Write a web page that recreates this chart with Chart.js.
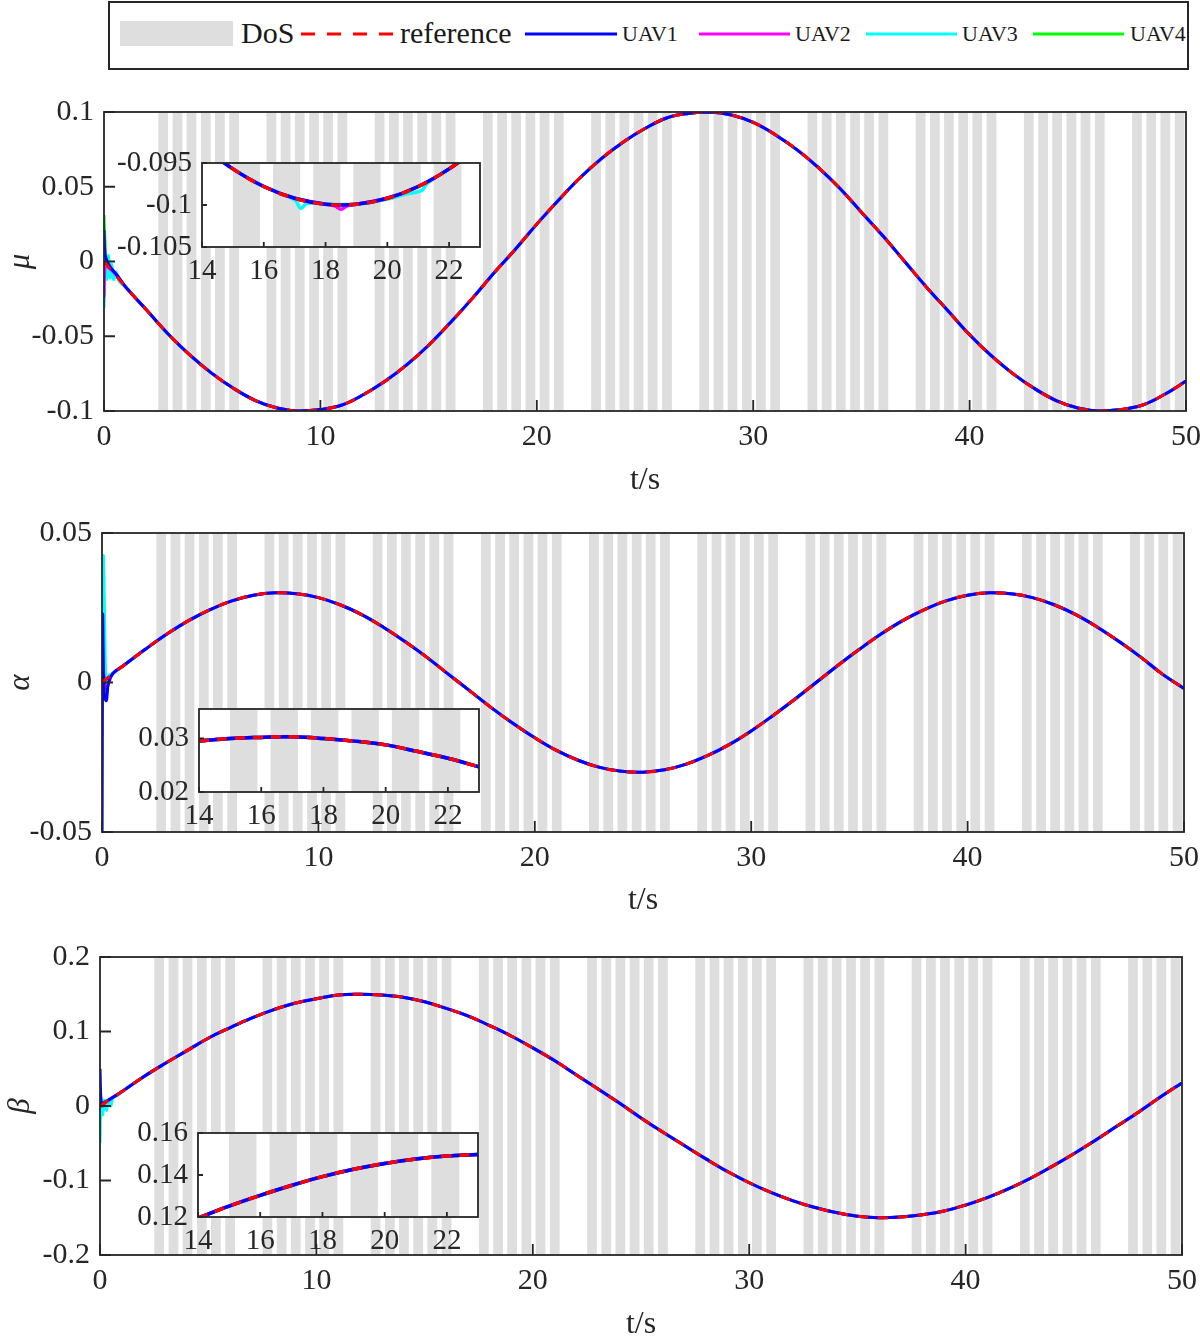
<!DOCTYPE html>
<html lang="en">
<head>
<meta charset="utf-8">
<title>Attitude tracking of UAVs under DoS attacks</title>
<script src="https://cdn.jsdelivr.net/npm/chart.js@4.4.1/dist/chart.umd.min.js"></script>
<style>
    html, body { margin: 0; padding: 0; background: #fff; }
    body {
        position: relative;
        width: 1200px;
        height: 1336px;
        overflow: hidden;
        font-family: "Liberation Serif", "Times New Roman", serif;
        color: #1a1a1a;
    }
    .panel { position: absolute; }
    #legend {
        position: absolute;
        left: 108px;
        top: 1px;
        width: 1077px;
        height: 65px;
        border: 2px solid #262626;
        background: #fff;
    }
    #legend svg { position: absolute; left: 0; top: 0; }
    .key { position: absolute; white-space: nowrap; }
    .key.big { font-size: 30px; line-height: 30px; top: 15px; }
    .key.small { font-size: 22px; line-height: 22px; top: 20px; }
    .patch { position: absolute; left: 10px; top: 18px; width: 113px; height: 25px; background: #dedede; }
</style>
</head>
<body>

<div id="legend">
    <div class="patch"></div>
    <span class="key big" style="left:131px">DoS</span>
    <svg width="1077" height="65"></svg>
</div>

<div class="panel" style="left:0;top:75px;width:1200px;height:430px"><canvas id="muChart"></canvas></div>
<div class="panel" style="left:0;top:500px;width:1200px;height:430px"><canvas id="alphaChart"></canvas></div>
<div class="panel" style="left:0;top:925px;width:1200px;height:430px"><canvas id="betaChart"></canvas></div>

<div class="panel" style="left:106px;top:150px;width:379px;height:140px"><canvas id="muInset"></canvas></div>
<div class="panel" style="left:103px;top:696px;width:381px;height:140px"><canvas id="alphaInset"></canvas></div>
<div class="panel" style="left:102px;top:1120px;width:381px;height:140px"><canvas id="betaInset"></canvas></div>

<script>
// ---- values ----
const timeSec = [0,1,2,3,4,5,6,7,8,9,10,11,12,13,14,15,16,17,18,19,20,21,22,23,24,25,
    26,27,28,29,30,31,32,33,34,35,36,37,38,39,40,41,42,43,44,45,46,47,48,49,50];

const muRef = [0,-0.017,-0.033,-0.049,-0.063,-0.075,-0.085,-0.093,-0.098,-0.1,-0.099,-0.096,
    -0.089,-0.08,-0.069,-0.056,-0.041,-0.025,-0.008,0.008,0.025,0.041,0.056,0.069,0.08,0.089,
    0.096,0.099,0.1,0.098,0.093,0.085,0.075,0.063,0.049,0.033,0.017,0,-0.017,-0.033,-0.049,
    -0.063,-0.075,-0.085,-0.093,-0.098,-0.1,-0.099,-0.096,-0.089,-0.08];

const alphaRef = [0,0.0057,0.0111,0.0162,0.0207,0.0244,0.0273,0.0292,0.03,0.0297,0.0284,0.026,
    0.0227,0.0185,0.0137,0.0085,0.0028,-0.0028,-0.0085,-0.0137,-0.0185,-0.0227,-0.026,-0.0284,
    -0.0297,-0.03,-0.0292,-0.0273,-0.0244,-0.0207,-0.0162,-0.0111,-0.0057,0,0.0057,0.0111,
    0.0162,0.0207,0.0244,0.0273,0.0292,0.03,0.0297,0.0284,0.026,0.0227,0.0185,0.0137,0.0085,
    0.0028,-0.002];

const betaRef = [0,0.019,0.039,0.057,0.074,0.091,0.105,0.118,0.129,0.138,0.144,0.149,0.15,
    0.149,0.146,0.14,0.131,0.121,0.108,0.094,0.078,0.061,0.042,0.023,0.004,-0.016,-0.035,
    -0.053,-0.071,-0.088,-0.103,-0.116,-0.127,-0.136,-0.143,-0.148,-0.15,-0.149,-0.146,-0.141,
    -0.133,-0.123,-0.111,-0.097,-0.081,-0.064,-0.046,-0.027,-0.008,0.012,0.031];

// start-up transients of each UAV (after t = 1 s they sit on the reference)
const uav1MuT = [0, 0.04, 0.12, 0.3, 0.6];
const uav1Mu  = [0.021, 0.006, 0.001, -0.004, -0.009];
const uav2MuT = [0, 0.06, 0.2, 0.5];
const uav2Mu  = [-0.024, -0.002, -0.004, -0.008];
const uav3MuT = [0, 0.06, 0.12, 0.2, 0.28, 0.36, 0.45, 0.55, 0.7];
const uav3Mu  = [-0.031, 0.006, -0.012, 0.004, -0.011, -0.002, -0.012, -0.007, -0.013];
const uav4MuT = [0, 0.05, 0.12, 0.3, 0.6];
const uav4Mu  = [0.031, 0.012, 0, -0.004, -0.01];

const uav1AlT = [0, 0.03, 0.1, 0.2, 0.3, 0.5];
const uav1Al  = [-0.06, 0.022, -0.004, -0.006, 0, 0.003];
const uav2AlT = [0, 0.08, 0.2, 0.5];
const uav2Al  = [-0.004, 0.002, -0.002, 0.003];
const uav3AlT = [0, 0.06, 0.1, 0.2, 0.3, 0.5];
const uav3Al  = [0, 0.042, 0.03, -0.004, 0.002, 0.003];
const uav4AlT = [0, 0.08, 0.3];
const uav4Al  = [0.004, 0, 0.002];

const uav1BeT = [0, 0.06, 0.15, 0.4];
const uav1Be  = [0.05, 0.002, 0.004, 0.008];
const uav2BeT = [0, 0.08, 0.3];
const uav2Be  = [0.025, 0, 0.006];
const uav3BeT = [0, 0.05, 0.12, 0.2, 0.3, 0.4, 0.5, 0.6, 0.8];
const uav3Be  = [-0.05, 0.01, -0.012, 0.008, -0.006, 0.009, 0, 0.011, 0.014];
const uav4BeT = [0, 0.06, 0.3];
const uav4Be  = [-0.018, 0, 0.006];

// zoomed insets
const insetTime = [14, 15, 16, 17, 18, 19, 20, 21, 22, 23];
const insetMuRef = [-0.093, -0.0957, -0.0978, -0.0992, -0.0999, -0.0999, -0.0992, -0.0978, -0.0957, -0.093];
const insetMuUav2T = [14, 15, 16, 17, 18, 18.3, 18.5, 18.7, 19, 20, 21, 22, 23];
const insetMuUav2  = [-0.093, -0.0957, -0.0978, -0.0992, -0.0999, -0.1001, -0.1005, -0.1001, -0.0999, -0.0992, -0.0978, -0.0957, -0.093];
const insetMuUav3T = [14, 15, 16, 17, 17.2, 17.4, 18, 19, 20, 20.6, 21.1, 21.3, 22, 23];
const insetMuUav3  = [-0.093, -0.0957, -0.0978, -0.0994, -0.1004, -0.0998, -0.0999, -0.0999, -0.0993, -0.0987, -0.0983, -0.0974, -0.0957, -0.093];
const insetAlphaRef = [0.0295, 0.03, 0.0302, 0.0303, 0.03, 0.0295, 0.0288, 0.0276, 0.0263, 0.0247];
const insetBetaRef = [0.1195, 0.1252, 0.1303, 0.135, 0.1392, 0.1427, 0.1455, 0.1476, 0.149, 0.1498];

// DoS attack intervals [start, end] in seconds
const dosIntervals = [
    [2.51,2.96],[3.17,3.62],[3.82,4.27],[4.48,4.93],[5.13,5.58],[5.79,6.24],
    [7.51,7.96],[8.17,8.62],[8.82,9.27],[9.48,9.93],[10.13,10.58],[10.79,11.24],
    [12.51,12.96],[13.17,13.62],[13.82,14.27],[14.48,14.93],[15.13,15.58],[15.79,16.24],
    [17.51,17.96],[18.17,18.62],[18.82,19.27],[19.48,19.93],[20.13,20.58],[20.79,21.24],
    [22.51,22.96],[23.17,23.62],[23.82,24.27],[24.48,24.93],[25.13,25.58],[25.79,26.24],
    [27.51,27.96],[28.17,28.62],[28.82,29.27],[29.48,29.93],[30.13,30.58],[30.79,31.24],
    [32.51,32.96],[33.17,33.62],[33.82,34.27],[34.48,34.93],[35.13,35.58],[35.79,36.24],
    [37.51,37.96],[38.17,38.62],[38.82,39.27],[39.48,39.93],[40.13,40.58],[40.79,41.24],
    [42.51,42.96],[43.17,43.62],[43.82,44.27],[44.48,44.93],[45.13,45.58],[45.79,46.24],
    [47.51,47.96],[48.17,48.62],[48.82,49.27],[49.48,49.93]
];
const insetDos = [[15.0,15.88],[16.3,17.18],[17.6,18.48],[18.9,19.78],[20.2,21.08],[21.5,22.4]];

const timeTicks = [0, 10, 20, 30, 40, 50];
const muTicks = [-0.1, -0.05, 0, 0.05, 0.1];
const alphaTicks = [-0.05, 0, 0.05];
const betaTicks = [-0.2, -0.1, 0, 0.1, 0.2];
const insetTimeTicks = [14, 16, 18, 20, 22];
const insetMuTicks = [-0.105, -0.1, -0.095];
const insetAlphaTicks = [0.02, 0.03];
const insetBetaTicks = [0.12, 0.14, 0.16];

const seriesNames = ['reference', 'UAV1', 'UAV2', 'UAV3', 'UAV4'];
const seriesColors = ['#ff0000', '#0000ff', '#ff00ff', '#00ffff', '#00ff00'];

// ---- helpers ----
const SERIF = '"Liberation Serif", "Times New Roman", serif';
const INK = '#262626';
const DOS_GRAY = '#dedede';

const toPoints = (ts, vs) => ts.map((t, i) => ({ x: t, y: vs[i] }));
const withRef = (ts, vs, ref) => toPoints(ts, vs).concat(toPoints(timeSec, ref).filter(p => p.x >= 1));

// gray DoS bands (and a white plot area for the insets)
function dosBands(bands, whiteArea) {
    return {
        id: 'dosBands',
        beforeDraw(chart) {
            if (!whiteArea) return;
            const a = chart.chartArea;
            chart.ctx.save();
            chart.ctx.fillStyle = '#fff';
            chart.ctx.fillRect(a.left, a.top, a.width, a.height);
            chart.ctx.restore();
        },
        beforeDatasetsDraw(chart) {
            const { ctx, chartArea: a, scales: { x } } = chart;
            ctx.save();
            ctx.beginPath();
            ctx.rect(a.left, a.top, a.width, a.height);
            ctx.clip();
            ctx.fillStyle = DOS_GRAY;
            bands.forEach(([s, e]) => {
                const x0 = x.getPixelForValue(s);
                const x1 = x.getPixelForValue(e);
                ctx.fillRect(x0, a.top, x1 - x0, a.height);
            });
            ctx.restore();
        }
    };
}

// MATLAB-like box with inward ticks on the left and bottom
function axesBox(tickLen) {
    return {
        id: 'axesBox',
        afterDatasetsDraw(chart) {
            const { ctx, chartArea: a, scales: { x, y } } = chart;
            ctx.save();
            ctx.strokeStyle = INK;
            ctx.lineWidth = 1.8;
            ctx.beginPath();
            x.ticks.forEach(t => {
                const px = x.getPixelForValue(t.value);
                ctx.moveTo(px, a.bottom);
                ctx.lineTo(px, a.bottom - tickLen);
            });
            y.ticks.forEach(t => {
                const py = y.getPixelForValue(t.value);
                ctx.moveTo(a.left, py);
                ctx.lineTo(a.left + tickLen, py);
            });
            ctx.stroke();
            ctx.strokeRect(a.left, a.top, a.width, a.height);
            ctx.restore();
        }
    };
}

function axis(min, max, ticks, size, horizontal, pad, fontSize, title) {
    return {
        type: 'linear',
        min: min,
        max: max,
        afterBuildTicks: s => { s.ticks = ticks.map(v => ({ value: v })); },
        afterFit: s => {
            if (horizontal) { s.height = size; s.paddingLeft = 0; s.paddingRight = 0; }
            else { s.width = size; s.paddingTop = 0; s.paddingBottom = 0; }
        },
        grid: { display: false, drawTicks: false },
        border: { display: false },
        ticks: {
            color: INK,
            font: { family: SERIF, size: fontSize },
            padding: pad,
            maxRotation: 0,
            autoSkip: false,
            callback: v => String(v)
        },
        title: title || { display: false }
    };
}

function drawPanel(id, sets, o) {
    return new Chart(document.getElementById(id), {
        type: 'line',
        data: {
            datasets: sets.map((d, i) => ({
                label: seriesNames[i],
                data: d,
                borderColor: seriesColors[i],
                borderWidth: o.lineWidth,
                borderDash: i === 0 ? o.dash : [],
                pointRadius: 0,
                tension: 0.4,
                fill: false
            }))
        },
        options: {
            responsive: true,
            maintainAspectRatio: false,
            animation: false,
            events: [],
            layout: { padding: o.padding },
            plugins: { legend: { display: false }, tooltip: { enabled: false } },
            scales: {
                x: axis(o.xMin, o.xMax, o.xTicks, o.xHeight, true, o.xPad, o.fontSize, o.xTitle),
                y: axis(o.yMin, o.yMax, o.yTicks, o.yWidth, false, 10, o.fontSize, o.yTitle)
            }
        },
        plugins: [dosBands(o.bands, o.whiteArea), axesBox(o.tickLen)]
    });
}

const xTitle = pb => ({
    display: true, text: 't/s', color: INK,
    font: { family: SERIF, size: 32 },
    padding: { top: 0, bottom: pb }
});
const yTitle = txt => ({
    display: true, text: txt, color: INK,
    font: { family: SERIF, size: 31, style: 'italic' },
    padding: { top: 2, bottom: 0 }
});

const mainOpts = (yMin, yMax, yTicks, yWidth, xHeight, padTop, padRight, pb, label) => ({
    xMin: 0, xMax: 50, xTicks: timeTicks, xHeight: xHeight, xPad: 8, xTitle: xTitle(pb),
    yMin: yMin, yMax: yMax, yTicks: yTicks, yWidth: yWidth, yTitle: yTitle(label),
    padding: { top: padTop, right: padRight, left: 0, bottom: 0 }, fontSize: 30,
    bands: dosIntervals, whiteArea: false, tickLen: 11, lineWidth: 3, dash: [10, 10]
});

const insetOpts = (yMin, yMax, yTicks, xHeight) => ({
    xMin: 14, xMax: 23, xTicks: insetTimeTicks, xHeight: xHeight, xPad: 7,
    yMin: yMin, yMax: yMax, yTicks: yTicks, yWidth: 96,
    padding: { top: 13, right: 5, left: 0, bottom: 0 }, fontSize: 29,
    bands: insetDos, whiteArea: true, tickLen: 5, lineWidth: 3.5, dash: [10, 8]
});

// ---- main panels ----
drawPanel('muChart', [
    toPoints(timeSec, muRef),
    withRef(uav1MuT, uav1Mu, muRef),
    withRef(uav2MuT, uav2Mu, muRef),
    withRef(uav3MuT, uav3Mu, muRef),
    withRef(uav4MuT, uav4Mu, muRef)
], mainOpts(-0.1, 0.1, muTicks, 104, 94, 37, 14, 5, 'μ'));

drawPanel('alphaChart', [
    toPoints(timeSec, alphaRef),
    withRef(uav1AlT, uav1Al, alphaRef),
    withRef(uav2AlT, uav2Al, alphaRef),
    withRef(uav3AlT, uav3Al, alphaRef),
    withRef(uav4AlT, uav4Al, alphaRef)
], mainOpts(-0.05, 0.05, alphaTicks, 102, 98, 33, 16, 10, 'α'));

drawPanel('betaChart', [
    toPoints(timeSec, betaRef),
    withRef(uav1BeT, uav1Be, betaRef),
    withRef(uav2BeT, uav2Be, betaRef),
    withRef(uav3BeT, uav3Be, betaRef),
    withRef(uav4BeT, uav4Be, betaRef)
], mainOpts(-0.2, 0.2, betaTicks, 100, 100, 32, 18, 11, 'β'));

// ---- insets ----
drawPanel('muInset', [
    toPoints(insetTime, insetMuRef),
    toPoints(insetTime, insetMuRef),
    toPoints(insetMuUav2T, insetMuUav2),
    toPoints(insetMuUav3T, insetMuUav3),
    toPoints(insetTime, insetMuRef)
], insetOpts(-0.105, -0.095, insetMuTicks, 43));

drawPanel('alphaInset', [0, 1, 2, 3, 4].map(() => toPoints(insetTime, insetAlphaRef)),
    insetOpts(0.02, 0.0355, insetAlphaTicks, 44));

drawPanel('betaInset', [0, 1, 2, 3, 4].map(() => toPoints(insetTime, insetBetaRef)),
    insetOpts(0.12, 0.16, insetBetaTicks, 43));

// ---- legend ----
const svg = document.querySelector('#legend svg');
const legend = document.getElementById('legend');
const NS = 'http://www.w3.org/2000/svg';
const keyLines = [[191, 285], [415, 507], [589, 680], [756, 847], [923, 1014]];
const keyText = [290, 512, 685, 852, 1020];
seriesNames.forEach((name, i) => {
    const ln = document.createElementNS(NS, 'line');
    ln.setAttribute('x1', keyLines[i][0]);
    ln.setAttribute('x2', keyLines[i][1]);
    ln.setAttribute('y1', 31);
    ln.setAttribute('y2', 31);
    ln.setAttribute('stroke', seriesColors[i]);
    ln.setAttribute('stroke-width', 3);
    if (i === 0) ln.setAttribute('stroke-dasharray', '14 12');
    svg.appendChild(ln);

    const span = document.createElement('span');
    span.className = 'key ' + (i === 0 ? 'big' : 'small');
    span.style.left = keyText[i] + 'px';
    span.textContent = name;
    legend.appendChild(span);
});
</script>
</body>
</html>
